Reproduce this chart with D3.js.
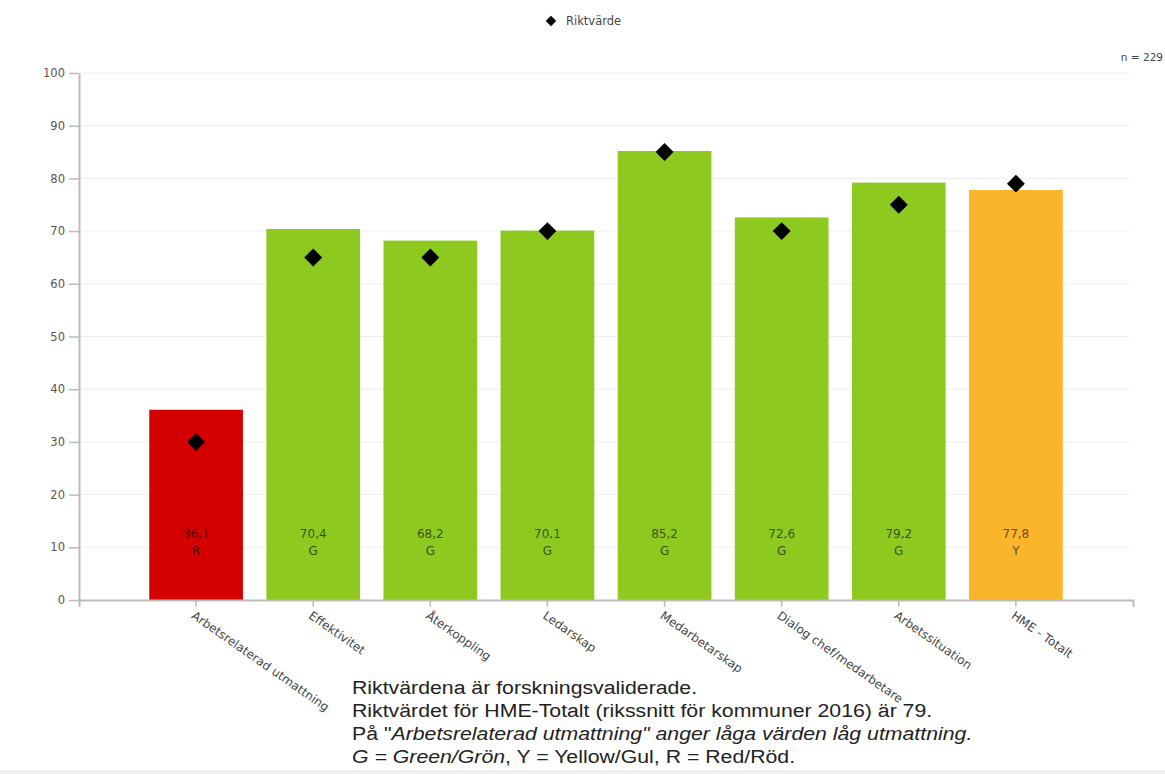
<!DOCTYPE html>
<html>
<head>
<meta charset="utf-8">
<script src="https://cdn.jsdelivr.net/npm/d3@7"></script>
<style>
  body { margin: 0; background: #fff; }
  svg { display: block; }
</style>
</head>
<body>
<script>
var w = 1165;
var h = 774;

// data
var categories = ["Arbetsrelaterad utmattning", "Effektivitet", "Återkoppling", "Ledarskap",
    "Medarbetarskap", "Dialog chef/medarbetare", "Arbetssituation", "HME - Totalt"];
var values = [36.1, 70.4, 68.2, 70.1, 85.2, 72.6, 79.2, 77.8];
var grades = ["R", "G", "G", "G", "G", "G", "G", "Y"];
var targets = [30, 65, 65, 70, 85, 70, 75, 79];
var yTicks = [0, 10, 20, 30, 40, 50, 60, 70, 80, 90, 100];
var notes = [
    [["Riktvärdena är forskningsvaliderade.", false]],
    [["Riktvärdet för HME-Totalt (rikssnitt för kommuner  2016) är 79.", false]],
    [["På \"", false], ["Arbetsrelaterad utmattning\" anger låga värden låg utmattning.", true]],
    [["G = Green/Grön", true], [", Y = Yellow/Gul, R = Red/Röd.", false]]
];

var gradeColor = { R: "#d40000", G: "#8dc91f", Y: "#fbb52b" };

var plot = { left: 79, right: 1133, top: 73, bottom: 600 };

var svg = d3.select("body")
    .append("svg")
    .attr("width", w)
    .attr("height", h);

var x = d3.scaleBand()
    .domain(categories)
    .range([plot.left, plot.right])
    .paddingInner(0)
    .paddingOuter(0.5);

var y = d3.scaleLinear()
    .domain([0, 100])
    .range([plot.bottom, plot.top]);

// grid
svg.append("g")
    .selectAll("line")
    .data(yTicks.slice(1))
    .enter()
    .append("line")
    .attr("x1", plot.left)
    .attr("x2", 1130)
    .attr("y1", function(d){ return y(d); })
    .attr("y2", function(d){ return y(d); })
    .attr("stroke", "#eeeeee")
    .attr("stroke-width", 1);

// bars
var step = x.step();
svg.append("g")
    .selectAll("rect")
    .data(categories)
    .enter()
    .append("rect")
    .attr("x", function(d){ return x(d) + step * 0.1; })
    .attr("width", step * 0.8)
    .attr("y", function(d, i){ return y(values[i]); })
    .attr("height", function(d, i){ return y(0) - y(values[i]); })
    .attr("fill", function(d, i){ return gradeColor[grades[i]]; });

// value labels inside bars
var lab = svg.append("g")
    .attr("font-family", "DejaVu Sans, Verdana, sans-serif")
    .attr("font-size", "12px")
    .attr("fill", "#000")
    .attr("fill-opacity", 0.62)
    .attr("text-anchor", "middle");

lab.selectAll("text.v")
    .data(categories)
    .enter()
    .append("text")
    .attr("class", "v")
    .attr("x", function(d){ return x(d) + step / 2; })
    .attr("y", y(0) - 62)
    .text(function(d, i){ return values[i].toFixed(1).replace(".", ","); });

lab.selectAll("text.s")
    .data(categories)
    .enter()
    .append("text")
    .attr("class", "s")
    .attr("x", function(d){ return x(d) + step / 2; })
    .attr("y", y(0) - 45)
    .text(function(d, i){ return grades[i]; });

// y axis
var yAxis = svg.append("g")
    .attr("transform", "translate(" + plot.left + ",0)")
    .call(d3.axisLeft(y).tickValues(yTicks).tickSize(10).tickSizeOuter(0).tickPadding(4));

// x axis
var xAxis = svg.append("g")
    .attr("transform", "translate(0," + plot.bottom + ")")
    .call(d3.axisBottom(x).tickSize(7).tickSizeOuter(7));

[yAxis, xAxis].forEach(function(a){
    a.select(".domain").attr("stroke", "#bbbbbb").attr("stroke-width", 2);
    a.selectAll(".tick line").attr("stroke", "#bbbbbb").attr("stroke-width", 1.5);
    a.selectAll("text")
        .attr("fill", "#555")
        .style("font-family", "DejaVu Sans, Verdana, sans-serif")
        .style("font-size", "11.5px");
});

xAxis.selectAll(".tick text")
    .attr("x", 0)
    .attr("y", 0)
    .attr("dy", "0.35em")
    .attr("text-anchor", "start")
    .attr("transform", "translate(-3,14) rotate(35)")
    .attr("fill", "#444")
    .style("font-size", "12px");

// target diamonds
var diamond = d3.symbol().type(d3.symbolSquare).size(160);
svg.append("g")
    .selectAll("path")
    .data(categories)
    .enter()
    .append("path")
    .attr("d", diamond)
    .attr("transform", function(d, i){
        return "translate(" + (x(d) + step / 2) + "," + y(targets[i]) + ") rotate(45)";
    })
    .attr("fill", "#000");

// legend
svg.append("path")
    .attr("d", d3.symbol().type(d3.symbolSquare).size(55))
    .attr("transform", "translate(551,21) rotate(45)")
    .attr("fill", "#000");
svg.append("text")
    .attr("x", 566)
    .attr("y", 25)
    .attr("font-family", "DejaVu Sans, Verdana, sans-serif")
    .attr("font-size", "11.5px")
    .attr("fill", "#444")
    .text("Riktvärde");

svg.append("text")
    .attr("x", 1163)
    .attr("y", 61)
    .attr("text-anchor", "end")
    .attr("font-family", "DejaVu Sans, Verdana, sans-serif")
    .attr("font-size", "10.5px")
    .attr("fill", "#444")
    .text("n = 229");

// footnote
svg.append("rect")
    .attr("x", 0)
    .attr("y", 770)
    .attr("width", w)
    .attr("height", 4)
    .attr("fill", "#eeeeee");

var sx = 1.12;
var note = svg.append("text")
    .attr("transform", "scale(" + sx + ",1)")
    .attr("font-family", "Liberation Sans, Arial, sans-serif")
    .attr("font-size", "19px")
    .attr("fill", "#222");

notes.forEach(function(line, i){
    line.forEach(function(part, j){
        var s = note.append("tspan")
            .text(part[0])
            .attr("font-style", part[1] ? "italic" : "normal");
        if (j === 0) {
            s.attr("x", 352 / sx).attr("y", 694 + i * 23);
        }
    });
});
</script>
</body>
</html>
